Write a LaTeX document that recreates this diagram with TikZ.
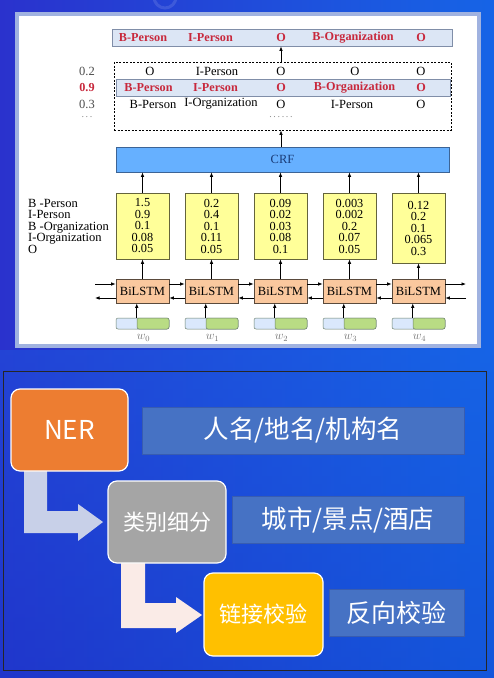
\documentclass[tikz,border=0pt]{standalone}
\usepackage{fontspec}
\setmainfont{Liberation Serif}
\newfontfamily\cjk{Noto Sans CJK SC}
\usepackage{xcolor}
\usetikzlibrary{arrows.meta,positioning,calc}

\definecolor{bgleft}{RGB}{42,50,205}
\definecolor{bgright}{RGB}{22,100,230}
\definecolor{bglow}{RGB}{14,62,200}
\definecolor{panelline}{RGB}{160,178,224}
\definecolor{bestfill}{RGB}{220,230,245}
\definecolor{bestline}{RGB}{128,142,168}
\definecolor{tagred}{RGB}{200,40,60}
\definecolor{crffill}{RGB}{102,176,255}
\definecolor{crfline}{RGB}{60,100,150}
\definecolor{crftext}{RGB}{26,60,120}
\definecolor{emitfill}{RGB}{255,255,153}
\definecolor{emitline}{RGB}{100,100,60}
\definecolor{lstmfill}{RGB}{250,200,158}
\definecolor{lstmline}{RGB}{90,74,60}
\definecolor{embblue}{RGB}{218,232,252}
\definecolor{embgreen}{RGB}{185,220,132}
\definecolor{embline}{RGB}{110,130,110}
\definecolor{nerorange}{RGB}{237,125,49}
\definecolor{catgray}{RGB}{165,165,165}
\definecolor{linkgold}{RGB}{255,192,0}
\definecolor{labblue}{RGB}{70,114,196}
\definecolor{labline}{RGB}{56,92,176}
\definecolor{arrowlav}{RGB}{200,208,232}
\definecolor{arrowpink}{RGB}{250,235,231}

\begin{document}
\begin{tikzpicture}[x=1pt, y=-1pt,
  >={Latex[length=4.5pt,width=3.6pt]},
  every node/.style={inner sep=0pt, font=\fontsize{12.5}{12.5}\selectfont},
  redtag/.style={text=tagred, font=\fontsize{12.2}{12.2}\selectfont\bfseries},
  rowbox/.style={draw=bestline, fill=bestfill, line width=0.7pt},
  emitbox/.style={draw=emitline, fill=emitfill, line width=0.7pt, minimum width=53pt,
    align=center, font=\fontsize{12.3}{11.5}\selectfont},
  lstmbox/.style={draw=lstmline, fill=lstmfill, line width=0.7pt, minimum width=53pt,
    minimum height=24pt, font=\fontsize{12.5}{12.5}\selectfont},
  embbox/.style={draw=embline, line width=0.5pt, rounded corners=2pt, minimum height=11pt},
  arr/.style={->, line width=0.8pt},
  stepbox/.style={draw=white, line width=1.2pt, rounded corners=9pt, text=white,
    minimum width=118pt, minimum height=82pt, font=\cjk\fontsize{22}{22}\selectfont},
  labbox/.style={draw=labline, fill=labblue, line width=0.6pt, text=white,
    minimum height=47pt, font=\cjk\fontsize{25.5}{25.5}\selectfont},
]
  % ---------- background ----------
  \useasboundingbox (0,0) rectangle (494,678);
  \shade[left color=bgleft, right color=bgright] (0,0) rectangle (494,678);
  \shade[top color=bgright, bottom color=bglow, opacity=0.35] (0,350) rectangle (494,678);
  \draw[white, opacity=0.12, line width=3pt] (165,-3) circle (11);

  % ---------- top panel: BiLSTM-CRF ----------
  \node[draw=panelline, line width=4pt, fill=white, minimum width=462pt,
    minimum height=332pt] (panel) at (248,180) {};

  % best path
  \node[rowbox, minimum width=340pt, minimum height=17pt] (best) at (282,37.5) {};
  \foreach \x/\t [count=\k] in {143/B-Person, 210.5/I-Person, 281/O, 353/B-Organization, 421/O}
    \node[redtag] (best\k) at (\x,38) {\t};

  % candidate paths
  \node[draw, dashed, dash pattern=on 2pt off 1.5pt, line width=0.7pt,
    minimum width=337pt, minimum height=68pt] (cands) at (282.5,96) {};
  \node[rowbox, minimum width=334pt, minimum height=17pt] (hl) at (283,87.5) {};
  \foreach \x/\t [count=\k] in {150/O, 217/I-Person, 281/O, 355/O, 421/O}
    \node (rowa\k) at (\x,71) {\t};
  \foreach \x/\t [count=\k] in {148.5/B-Person, 215.5/I-Person, 281/O, 354.5/B-Organization, 421/O}
    \node[redtag] (rowb\k) at (\x,88) {\t};
  \foreach \x/\t [count=\k] in {153/B-Person, 221/I-Organization, 281/O, 352/I-Person, 421/O}
    \node (rowc\k) at (\x,104) {\t};
  \node[text=black!70] (scorea) at (87,71) {0.2};
  \node[redtag] (scoreb) at (87,88) {0.9};
  \node[text=black!70] (scorec) at (87,104) {0.3};
  \node[text=black!45, font=\fontsize{10}{10}\selectfont] (scored) at (87,117) {.\,.\,.};
  \node[text=black!45, font=\fontsize{10}{10}\selectfont] (dots) at (281,117) {.\,.\,.\,.\,.\,.};
  \draw[arr] (cands.north -| best3) -- (best.south -| best3);

  % CRF layer
  \node[draw=crfline, fill=crffill, line width=0.7pt, minimum width=333pt,
    minimum height=25pt, text=crftext] (crf) at (282.5,159.5) {CRF};
  \draw[arr] (crf.north -| best3) -- (cands.south -| best3);

  % emission scores
  \node[anchor=west, align=left, font=\fontsize{12.5}{11.5}\selectfont] (tagnames) at (28,226)
    {B -Person\\I-Person\\B -Organization\\I-Organization\\O};
  \foreach \v [count=\i from 0] in {{1.5\\0.9\\0.1\\0.08\\0.05},
      {0.2\\0.4\\0.1\\0.11\\0.05}, {0.09\\0.02\\0.03\\0.08\\0.1},
      {0.003\\0.002\\0.2\\0.07\\0.05}}
    \node[emitbox, minimum height=66pt] (emit\i) at (142.5+69*\i,226) {\v};
  \node[emitbox, minimum height=70pt] (emit4) at (418.5,228) {0.12\\0.2\\0.1\\0.065\\0.3};

  % BiLSTM, inputs, words
  \foreach \i in {0,...,4} {
    \node[lstmbox] (lstm\i) at (142.5+69*\i,291) {BiLSTM};
    \node[embbox, fill=embblue, minimum width=53pt] (embb\i) at (142.5+69*\i,323.5) {};
    \node[embbox, fill=embgreen, minimum width=32pt, anchor=east] (embg\i) at (embb\i.east) {};
    \node[text=black!55, font=\fontsize{12}{12}\selectfont] (w\i) at (143.5+69*\i,338) {$w_{\i}$};
    \draw[arr] (emit\i.north) -- (crf.south -| emit\i.north);
    \draw[arr] (lstm\i.north) -- (emit\i.south);
    \draw[arr] (embg\i.north west) -- (embg\i.north west |- lstm\i.south);
  }
  \foreach \i [count=\j] in {0,...,3} {
    \draw[arr] ([yshift=7pt]lstm\i.east) -- ([yshift=7pt]lstm\j.west);
    \draw[arr] ([yshift=-7pt]lstm\j.west) -- ([yshift=-7pt]lstm\i.east);
  }
  \coordinate (fwin) at (95,284);
  \coordinate (bwout) at (95,298);
  \coordinate (fwout) at (466,284);
  \coordinate (bwin) at (466,298);
  \draw[arr] (fwin) -- (fwin -| lstm0.west);
  \draw[arr] (bwout -| lstm0.west) -- (bwout);
  \draw[arr] (fwout -| lstm4.east) -- (fwout);
  \draw[arr] (bwin) -- (bwin -| lstm4.east);

  % ---------- bottom panel: pipeline ----------
  \node[draw=black!85, line width=0.8pt, minimum width=483pt, minimum height=299pt] (stage) at (244.5,520.5) {};

  % bent block arrows
  \fill[arrowlav] (24,471) -- (47,471) -- (47,511) -- (78,511) -- (78,504) -- (103,522)
    -- (78,541) -- (78,533) -- (24,533) -- cycle;
  \fill[arrowpink] (121,562) -- (145,562) -- (145,603) -- (176,603) -- (176,597) -- (202,615)
    -- (176,633) -- (176,628) -- (121,628) -- cycle;

  \node[stepbox, fill=nerorange, minimum width=117pt, font=\cjk\fontsize{26}{26}\selectfont] (ner) at (69.5,430) {NER};
  \node[labbox, minimum width=322pt] (nerlab) at (303,430.5) {人名/地名/机构名};
  \node[stepbox, fill=catgray] (cat) at (167,522) {类别细分};
  \node[labbox, minimum width=232pt] (catlab) at (348,519.5) {城市/景点/酒店};
  \node[stepbox, fill=linkgold, minimum width=119pt, minimum height=83pt] (link) at (263.5,614.5) {链接校验};
  \node[labbox, minimum width=135pt, font=\cjk\fontsize{25}{25}\selectfont] (linklab) at (396.5,612.5) {反向校验};
\end{tikzpicture}
\end{document}
